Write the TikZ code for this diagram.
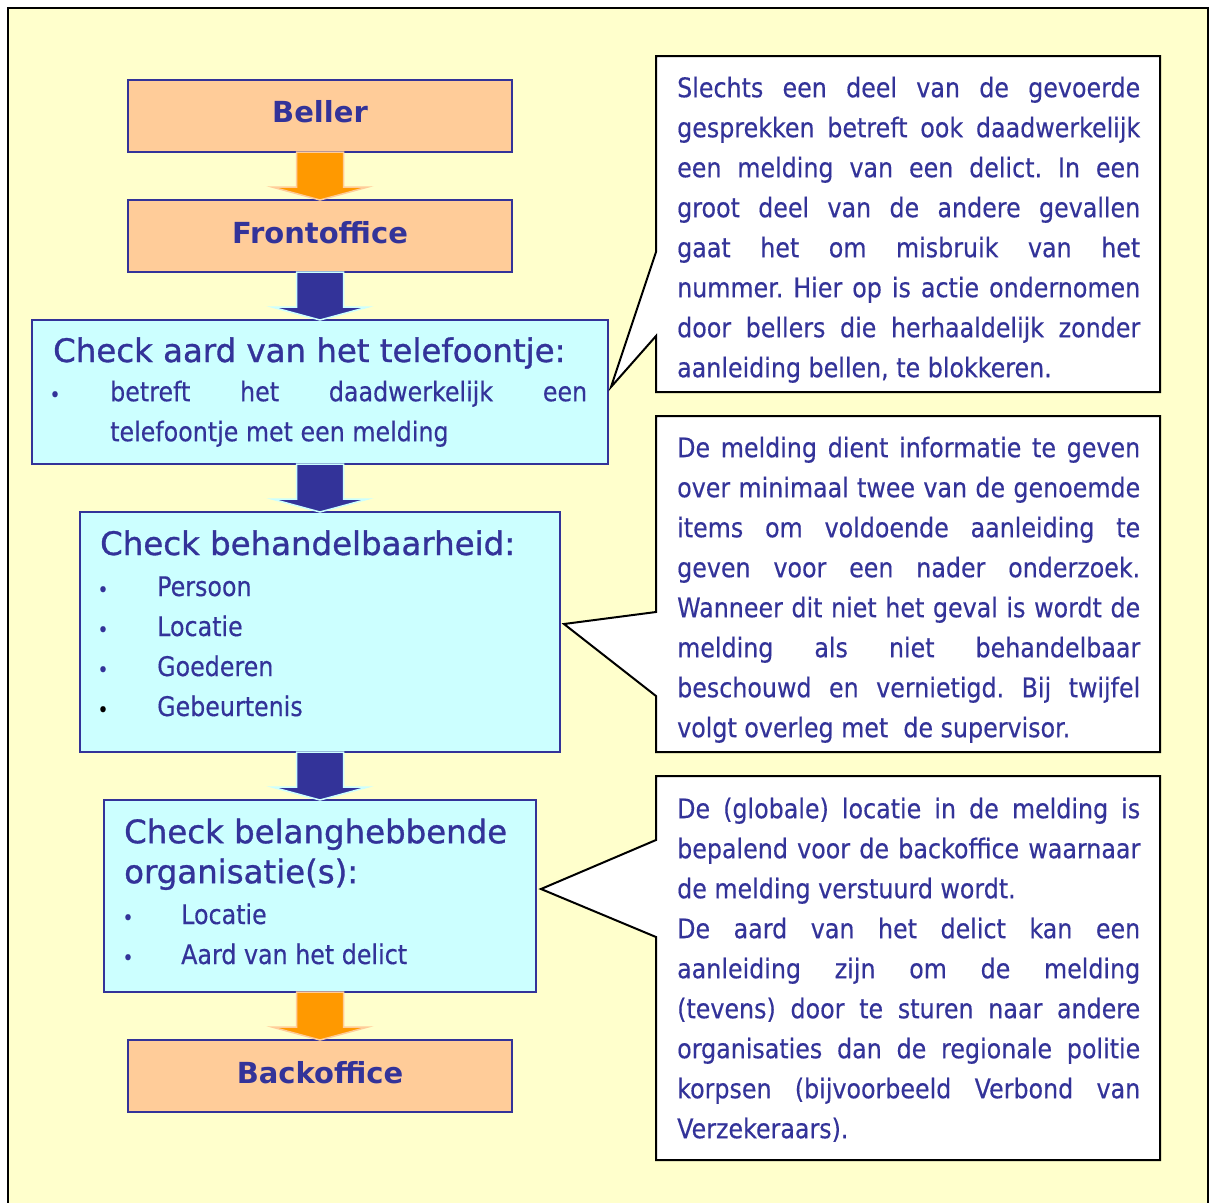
\documentclass[tikz,border=0pt]{standalone}
\usepackage{fontspec}
\setmainfont{DejaVu Sans}
\newfontfamily\bodyfont[FakeStretch=0.88, FakeBold=0.4]{DejaVu Sans}
\newfontfamily\headfont[FakeBold=1]{DejaVu Sans}
\usetikzlibrary{calc}

\definecolor{ink}{HTML}{333399}
\definecolor{paper}{HTML}{FFFFCC}
\definecolor{peach}{HTML}{FFCC99}
\definecolor{aqua}{HTML}{CCFFFF}
\definecolor{amber}{HTML}{FF9900}

% one justified line of fixed width
\newcommand\spreadline[2]{\makebox[#1][s]{\spaceskip=\fontdimen2\font plus 1fil minus .4\fontdimen2\font\relax#2}}
\newcommand\cl[1]{\spreadline{463pt}{#1}}
\newcommand\topstrut{\rule{0pt}{30pt}}

% block arrow from the bottom of one box to the top of the next
\newcommand\flowarrow[3]{%
  \filldraw[#1] ($(#2.south)+(-23.5,0)$) -- ($(#2.south)+(23.5,0)$)
    -- ($(#3.north)+(23.5,-13)$) -- ($(#3.north)+(48,-13)$) -- (#3.north)
    -- ($(#3.north)+(-48,-13)$) -- ($(#3.north)+(-23.5,-13)$) -- cycle;}

\tikzset{
  flowbox/.style={draw=ink, line width=2pt, inner sep=0pt, outer sep=0pt},
  peachbox/.style={flowbox, fill=peach},
  aquabox/.style={flowbox, fill=aqua},
  boxlabel/.style={font=\fontsize{29}{36}\selectfont\bfseries, text=ink, inner sep=0pt},
  heading/.style={font=\headfont\fontsize{32.4}{40}\selectfont, text=ink, inner sep=0pt},
  body/.style={font=\bodyfont\fontsize{27}{40}\selectfont\frenchspacing, text=ink, inner sep=0pt},
  dot/.style={font=\bodyfont\fontsize{21}{21}\selectfont, text=ink, inner sep=0pt, anchor=base},
  orangearrow/.style={fill=amber, draw=peach, line width=1.5pt, line join=miter},
  bluearrow/.style={fill=ink, draw=aqua, line width=1.5pt, line join=miter},
  callout/.style={fill=white, draw=black, line width=2pt, line join=miter},
}

\begin{document}
\begin{tikzpicture}[x=1pt, y=-1pt]
\useasboundingbox (0,0) rectangle (1215,1202);
\fill[white] (0,0) rectangle (1215,1202);
\filldraw[fill=paper, draw=black, line width=2.5pt] (8,8) rectangle (1208,1230);

% flow boxes
\node[peachbox, minimum width=384pt, minimum height=72pt]  (beller) at (320,116)  {};
\node[peachbox, minimum width=384pt, minimum height=72pt]  (front)  at (320,236)  {};
\node[aquabox,  minimum width=576pt, minimum height=144pt] (aard)   at (320,392)  {};
\node[aquabox,  minimum width=480pt, minimum height=240pt] (behand) at (320,632)  {};
\node[aquabox,  minimum width=432pt, minimum height=192pt] (belang) at (320,896)  {};
\node[peachbox, minimum width=384pt, minimum height=72pt]  (back)   at (320,1076) {};

% arrows between the boxes
\flowarrow{orangearrow}{beller}{front}
\flowarrow{bluearrow}{front}{aard}
\flowarrow{bluearrow}{aard}{behand}
\flowarrow{bluearrow}{behand}{belang}
\flowarrow{orangearrow}{belang}{back}

% box labels
\node[boxlabel, anchor=base] (lbeller) at (320,122)  {Beller};
\node[boxlabel, anchor=base] (lfront)  at (320,243)  {Frontoffice};
\node[boxlabel, anchor=base] (lback)   at (320,1083) {Backoffice};

% check: aard van het telefoontje
\node[heading, anchor=base west] (haard) at (53,362) {Check aard van het telefoontje:};
\node[dot] (baard) at (55,402) {•};
\node[body, anchor=north west, align=left] (taard) at (110,371)
  {\topstrut\spreadline{477pt}{betreft het daadwerkelijk een}\\telefoontje met een melding};

% check: behandelbaarheid
\node[heading, anchor=base west] (hbehand) at (100,555) {Check behandelbaarheid:};
\node[dot] (bb1) at (103,597) {•};
\node[dot] (bb2) at (103,637) {•};
\node[dot] (bb3) at (103,677) {•};
\node[dot, text=black] (bb4) at (103,717) {•};
\node[body, anchor=base west] (ib1) at (157,596) {Persoon};
\node[body, anchor=base west] (ib2) at (157,636) {Locatie};
\node[body, anchor=base west] (ib3) at (157,676) {Goederen};
\node[body, anchor=base west] (ib4) at (157,716) {Gebeurtenis};

% check: belanghebbende organisaties
\node[heading, anchor=north west, align=left] (hbelang) at (124,813)
  {\topstrut Check belanghebbende\\organisatie(s):};
\node[dot] (bl1) at (128,925) {•};
\node[dot] (bl2) at (128,965) {•};
\node[body, anchor=base west] (il1) at (181,924) {Locatie};
\node[body, anchor=base west] (il2) at (181,964) {Aard van het delict};

% explanatory callouts
\coordinate (tip1) at (611,387);
\coordinate (tip2) at (564,624);
\coordinate (tip3) at (541,889);
\filldraw[callout] (656,56) -- (1160,56) -- (1160,392) -- (656,392)
  -- (656,336) -- (tip1) -- (656,252) -- cycle;
\filldraw[callout] (656,416) -- (1160,416) -- (1160,752) -- (656,752)
  -- (656,696) -- (tip2) -- (656,612) -- cycle;
\filldraw[callout] (656,776) -- (1160,776) -- (1160,1160) -- (656,1160)
  -- (656,937) -- (tip3) -- (656,840) -- cycle;

\node[body, anchor=north west, align=left] (note1) at (677,67)
  {\topstrut\cl{Slechts een deel van de gevoerde}\\
   \cl{gesprekken betreft ook daadwerkelijk}\\
   \cl{een melding van een delict. In een}\\
   \cl{groot deel van de andere gevallen}\\
   \cl{gaat het om misbruik van het}\\
   \cl{nummer. Hier op is actie ondernomen}\\
   \cl{door bellers die herhaaldelijk zonder}\\
   aanleiding bellen, te blokkeren.};

\node[body, anchor=north west, align=left] (note2) at (677,427)
  {\topstrut\cl{De melding dient informatie te geven}\\
   \cl{over minimaal twee van de genoemde}\\
   \cl{items om voldoende aanleiding te}\\
   \cl{geven voor een nader onderzoek.}\\
   \cl{Wanneer dit niet het geval is wordt de}\\
   \cl{melding als niet behandelbaar}\\
   \cl{beschouwd en vernietigd. Bij twijfel}\\
   volgt overleg met\ \ de supervisor.};

\node[body, anchor=north west, align=left] (note3) at (677,788)
  {\topstrut\cl{De (globale) locatie in de melding is}\\
   \cl{bepalend voor de backoffice waarnaar}\\
   de melding verstuurd wordt.\\
   \cl{De aard van het delict kan een}\\
   \cl{aanleiding zijn om de melding}\\
   \cl{(tevens) door te sturen naar andere}\\
   \cl{organisaties dan de regionale politie}\\
   \cl{korpsen (bijvoorbeeld Verbond van}\\
   Verzekeraars).};
\end{tikzpicture}
\end{document}
